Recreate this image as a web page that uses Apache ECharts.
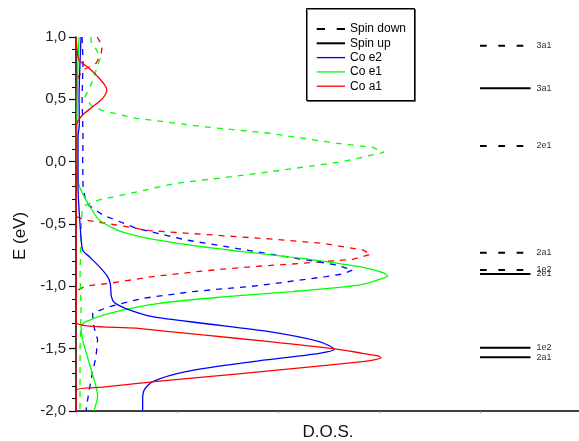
<!DOCTYPE html>
<html>
<head>
<meta charset="utf-8">
<script src="https://cdn.jsdelivr.net/npm/echarts@6/dist/echarts.min.js"></script>
<style>
html,body{margin:0;padding:0;background:#fff;}
#c{width:579px;height:441px;}
</style>
</head>
<body>
<div id="c"></div>
<script>
// [D.O.S., E(eV)] pairs
const coA1Up = [[0.0,1.0],[0.01,0.9],[0.03,0.815],[0.13,0.749],[0.23,0.669],[0.297,0.601],[0.304,0.575],[0.264,0.508],[0.165,0.441],[0.066,0.375],[0.016,0.321],[0.0,0.28],[0.0,-1.288],[0.594,-1.336],[1.254,-1.39],[1.914,-1.443],[2.541,-1.499],[2.838,-1.537],[2.99,-1.558],[3.02,-1.572],[2.95,-1.59],[2.838,-1.604],[1.914,-1.678],[1.254,-1.729],[0.825,-1.761],[0.264,-1.809],[0.0,-1.836],[0.0,-2.0]];
const coA1Down = [[0.21,1.0],[0.26,0.93],[0.25,0.87],[0.2,0.79],[0.08,0.74],[0.02,0.68],[0.0,0.5],[0.0,-0.44],[0.099,-0.468],[0.726,-0.553],[1.353,-0.588],[1.914,-0.62],[2.442,-0.655],[2.838,-0.708],[2.92,-0.743],[2.739,-0.783],[2.244,-0.815],[1.749,-0.842],[1.254,-0.877],[0.759,-0.922],[0.33,-0.976],[0.099,-0.997],[0.02,-1.03],[0.0,-1.1],[0.0,-2.0]];
const coE1Up = [[0.03,1.0],[0.02,0.8],[0.01,0.4],[0.01,0.0],[0.02,-0.15],[0.033,-0.2],[0.099,-0.307],[0.231,-0.468],[0.495,-0.574],[0.99,-0.654],[1.65,-0.722],[2.31,-0.783],[2.805,-0.842],[3.04,-0.89],[3.085,-0.917],[3.0,-0.945],[2.8,-0.99],[2.145,-1.042],[1.485,-1.083],[0.825,-1.136],[0.33,-1.216],[0.099,-1.283],[0.05,-1.323],[0.066,-1.43],[0.132,-1.617],[0.198,-1.804],[0.214,-1.885],[0.181,-1.99],[0.175,-2.0]];
const coE1Down = [[0.15,1.0],[0.15,0.96],[0.2,0.9],[0.24,0.83],[0.16,0.64],[0.09,0.52],[0.15,0.45],[0.264,0.409],[0.594,0.348],[1.254,0.281],[1.914,0.228],[2.574,0.148],[2.937,0.115],[3.05,0.075],[2.64,0.0],[1.815,-0.093],[0.99,-0.174],[0.231,-0.307],[0.099,-0.347],[0.06,-0.4],[0.05,-0.6],[0.04,-0.9],[0.05,-1.2],[0.04,-1.5],[0.04,-1.8],[0.04,-2.0]];
const coE2Up = [[0.05,1.0],[0.04,0.8],[0.03,0.5],[0.033,0.3],[0.02,0.2],[0.02,-0.2],[0.04,-0.5],[0.066,-0.71],[0.132,-0.762],[0.231,-0.842],[0.313,-0.922],[0.34,-0.98],[0.35,-1.08],[0.38,-1.13],[0.5,-1.18],[0.759,-1.243],[1.254,-1.296],[1.914,-1.363],[2.409,-1.443],[2.557,-1.505],[2.409,-1.537],[1.749,-1.604],[1.089,-1.684],[0.759,-1.764],[0.676,-1.831],[0.66,-1.911],[0.66,-2.0]];
const coE2Down = [[0.06,1.0],[0.07,0.8],[0.06,0.5],[0.07,0.2],[0.066,0.0],[0.07,-0.2],[0.099,-0.334],[0.264,-0.427],[0.594,-0.534],[1.089,-0.628],[1.584,-0.695],[2.079,-0.762],[2.574,-0.828],[2.739,-0.868],[2.65,-0.9],[2.475,-0.922],[1.815,-0.994],[1.155,-1.042],[0.66,-1.096],[0.33,-1.163],[0.165,-1.216],[0.17,-1.3],[0.214,-1.43],[0.198,-1.564],[0.148,-1.751],[0.115,-1.911],[0.099,-2.0]];

// molecular levels (E in eV) and their labels
const levelsDownE = [0.93, 0.126, -0.73, -0.868];
const levelsDownLabel = ['3a1', '2e1', '2a1', '1e2'];
const levelsUpE = [0.589, -0.901, -1.492, -1.569];
const levelsUpLabel = ['3a1', '2e1', '1e2', '2a1'];

const legendLabels = ['Spin down', 'Spin up', 'Co e2', 'Co e1', 'Co a1'];
const yTickValues = [-2.0, -1.5, -1.0, -0.5, 0.0, 0.5, 1.0];

// layout/style
const LEVEL_X0 = 4.0, LEVEL_X1 = 4.5;
const RED = '#ff0000', GREEN = '#00ff00', BLUE = '#0000ff';
const FONT = 'Liberation Sans, Arial, sans-serif';

function curve(data, color, dashed) {
  return {
    type: 'line', data: data, showSymbol: false, symbol: 'none',
    smooth: dashed ? false : 0.25,
    lineStyle: { color: color, width: 1.3, type: dashed ? [6, 6] : 'solid' },
    silent: true, z: 3
  };
}
function level(e, label, dashed) {
  return {
    type: 'line', data: [[LEVEL_X0, e], [LEVEL_X1, e]], showSymbol: false, symbol: 'none',
    lineStyle: { color: '#000', width: 2, type: dashed ? [6.7, 11.6] : 'solid' },
    endLabel: { show: true, formatter: label, distance: 6, fontSize: 9, color: '#333', fontFamily: FONT },
    silent: true, z: 2
  };
}

const series = [
  curve(coA1Down, RED, true),
  curve(coE2Down, BLUE, true),
  curve(coE1Down, GREEN, true),
  curve(coE1Up, GREEN, false),
  curve(coE2Up, BLUE, false),
  curve(coA1Up, RED, false)
];
levelsDownE.forEach((e, i) => series.push(level(e, levelsDownLabel[i], true)));
levelsUpE.forEach((e, i) => series.push(level(e, levelsUpLabel[i], false)));

// legend drawn as graphic
const legendStyles = [
  { color: '#000', width: 2, dash: [8.3, 11.7] },
  { color: '#000', width: 2, dash: null },
  { color: BLUE, width: 1.3, dash: null },
  { color: GREEN, width: 1.3, dash: null },
  { color: RED, width: 1.3, dash: null }
];
const graphic = [
  { type: 'rect', shape: { x: 306.5, y: 8.5, width: 108, height: 92 },
    style: { fill: '#fff', stroke: '#000', lineWidth: 1, shadowColor: 'rgba(0,0,0,0.5)', shadowOffsetX: 1, shadowOffsetY: 1 }, z: 10 }
];
legendLabels.forEach((t, i) => {
  const y = 29 + i * 14.3;
  const s = legendStyles[i];
  graphic.push({ type: 'line', shape: { x1: 316.7, y1: y, x2: 345, y2: y },
    style: { stroke: s.color, lineWidth: s.width, lineDash: s.dash || null }, z: 11 });
  graphic.push({ type: 'text', x: 350, y: y, style: { text: t, fill: '#000', font: '12px ' + FONT, verticalAlign: 'middle' }, z: 11 });
});
graphic.push({ type: 'text', x: 20, y: 236, rotation: Math.PI / 2,
  style: { text: 'E (eV)', fill: '#111', font: '17px ' + FONT, align: 'center', verticalAlign: 'middle' } });
graphic.push({ type: 'text', x: 328, y: 432,
  style: { text: 'D.O.S.', fill: '#111', font: '17px ' + FONT, align: 'center', verticalAlign: 'middle' } });

const chart = echarts.init(document.getElementById('c'), null, { renderer: 'canvas' });
chart.setOption({
  animation: false,
  backgroundColor: '#fff',
  grid: { left: 76, top: 37, bottom: 30, right: 0, containLabel: false },
  xAxis: {
    type: 'value', min: 0, max: 4.98, interval: 1,
    axisLine: { show: true, onZero: false, lineStyle: { color: '#000', width: 1.5 } },
    axisTick: { show: true, inside: false, length: 2, lineStyle: { color: '#888' } },
    axisLabel: { show: false }, splitLine: { show: false }
  },
  yAxis: {
    type: 'value', min: yTickValues[0], max: yTickValues[yTickValues.length - 1], interval: 0.5,
    axisLine: { show: true, onZero: false, lineStyle: { color: '#000', width: 1.5 } },
    axisTick: { show: true, inside: false, length: 7, lineStyle: { color: '#000', width: 1.2 } },
    minorTick: { show: true, splitNumber: 5, length: 4, lineStyle: { color: '#000', width: 1 } },
    axisLabel: { show: true, margin: 10, fontSize: 15, color: '#222', fontFamily: FONT,
      formatter: v => v.toFixed(1).replace('.', ',') },
    splitLine: { show: false }
  },
  series: series,
  graphic: graphic
});
</script>
</body>
</html>
